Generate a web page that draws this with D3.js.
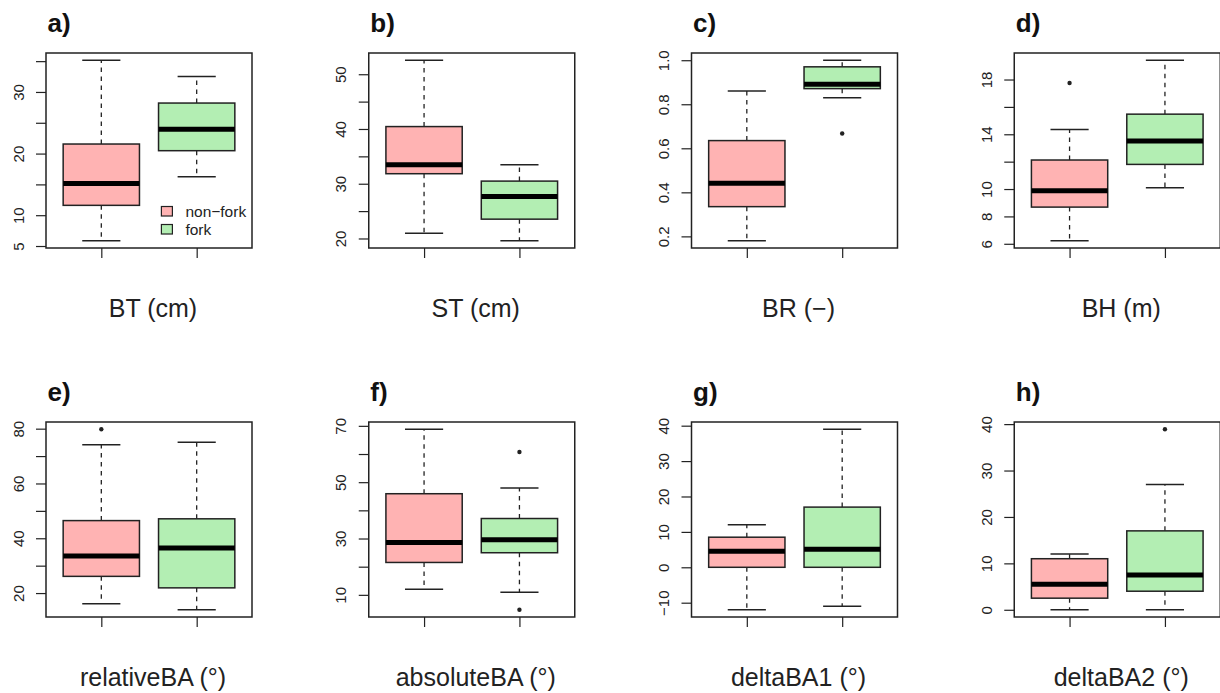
<!DOCTYPE html>
<html>
<head>
<meta charset="utf-8">
<script src="https://cdn.jsdelivr.net/npm/d3@7"></script>
<style>
  body { margin: 0; background: #fff; }
  svg { display: block; font-family: "Liberation Sans", Arial, sans-serif; }
</style>
</head>
<body>
<svg width="1220" height="693"></svg>
<script>
// panel letters and variable names
const panelTags = ['a)', 'b)', 'c)', 'd)', 'e)', 'f)', 'g)', 'h)'];
const varLabels = ['BT (cm)', 'ST (cm)', 'BR (\u2212)', 'BH (m)',
  'relativeBA (\u00b0)', 'absoluteBA (\u00b0)', 'deltaBA1 (\u00b0)', 'deltaBA2 (\u00b0)'];
const groups = ['non\u2212fork', 'fork'];
const groupColors = ['#ffb3b3', '#b3eeb3'];

// five-number summaries: [lower whisker, Q1, median, Q3, upper whisker]
const nonForkStats = [
  [5.85, 11.6, 15.15, 21.55, 35.15],
  [20.97, 31.83, 33.47, 40.44, 52.56],
  [0.18, 0.335, 0.441, 0.635, 0.86],
  [6.22, 8.68, 9.88, 12.12, 14.34],
  [16.1, 26.1, 33.5, 46.45, 74.1],
  [12.0, 21.5, 28.6, 45.9, 68.8],
  [-12.0, 0, 4.5, 8.5, 12],
  [0, 2.5, 5.5, 11, 12]
];
const forkStats = [
  [16.24, 20.47, 23.94, 28.2, 32.5],
  [19.58, 23.53, 27.68, 30.48, 33.47],
  [0.83, 0.871, 0.891, 0.97, 1.0],
  [10.1, 11.8, 13.51, 15.47, 19.41],
  [13.9, 21.9, 36.45, 47.1, 75.0],
  [10.9, 24.95, 29.6, 37.1, 47.9],
  [-11.0, 0, 5.1, 17, 39],
  [0, 4, 7.5, 17, 27]
];
const nonForkOutliers = [[], [], [], [17.75], [79.8], [], [], []];
const forkOutliers = [[], [], [0.667], [], [], [60.7, 4.7], [], [38.9]];

// y ticks, and which of them carry a label
const yTicks = [
  [5, 10, 15, 20, 25, 30, 35],
  [20, 25, 30, 35, 40, 45, 50],
  [0.2, 0.4, 0.6, 0.8, 1.0],
  [6, 8, 10, 12, 14, 16, 18],
  [20, 30, 40, 50, 60, 70, 80],
  [10, 20, 30, 40, 50, 60, 70],
  [-10, 0, 10, 20, 30, 40],
  [0, 10, 20, 30, 40]
];
const yTickLabels = [
  [5, 10, 20, 30],
  [20, 30, 40, 50],
  [0.2, 0.4, 0.6, 0.8, 1.0],
  [6, 8, 10, 14, 18],
  [20, 40, 60, 80],
  [10, 30, 50, 70],
  [-10, 0, 10, 20, 30, 40],
  [0, 10, 20, 30, 40]
];

const svg = d3.select('svg');
const plotW = 206, plotH = 195;
const colStep = 322.75, rowStep = 369;
const ink = '#222';

panelTags.forEach((tag, i) => {
  const left = 46 + (i % 4) * colStep;
  const top = 53 + Math.floor(i / 4) * rowStep;
  const g = svg.append('g').attr('transform', `translate(${left},${top})`);

  const stats = [nonForkStats[i], forkStats[i]];
  const outs = [nonForkOutliers[i], forkOutliers[i]];
  const all = stats.flat().concat(outs.flat());
  let [lo, hi] = d3.extent(all);
  const pad = (hi - lo) * 0.04;

  const y = d3.scaleLinear().domain([lo - pad, hi + pad]).range([plotH, 0]);
  // R boxplot x range 0.5..2.5 with 4% expansion
  const x = d3.scaleLinear().domain([0.42, 2.58]).range([0, plotW]);

  const labelled = yTickLabels[i];
  const fmt = i === 2 ? d3.format('.1f') : d3.format('d');
  const yAxis = g.append('g')
    .call(d3.axisLeft(y)
      .tickValues(yTicks[i])
      .tickSize(10)
      .tickFormat(v => labelled.some(l => Math.abs(l - v) < 1e-9) ? fmt(v).replace('-', '\u2212') : ''));
  yAxis.select('.domain').remove();
  yAxis.selectAll('.tick line').attr('stroke', ink).attr('stroke-width', 1.2);
  yAxis.selectAll('.tick text')
    .attr('transform', 'rotate(-90)')
    .attr('x', 0).attr('y', -22.5).attr('dy', 0)
    .attr('text-anchor', 'middle')
    .attr('fill', ink)
    .style('font-size', '15px')
    .style('font-family', '"Liberation Sans", Arial, sans-serif');

  const xAxis = g.append('g')
    .attr('transform', `translate(0,${plotH})`)
    .call(d3.axisBottom(x).tickValues([1, 2]).tickSize(10).tickFormat(''));
  xAxis.select('.domain').remove();
  xAxis.selectAll('.tick line').attr('stroke', ink).attr('stroke-width', 1.2);

  stats.forEach((s, k) => {
    const c = k + 1;
    const [wl, q1, med, q3, wh] = s;
    const bg = g.append('g');
    // whiskers
    bg.selectAll('line.whisk').data([[q3, wh], [q1, wl]]).enter().append('line')
      .attr('x1', x(c)).attr('x2', x(c))
      .attr('y1', d => y(d[0])).attr('y2', d => y(d[1]))
      .attr('stroke', ink).attr('stroke-width', 1.3)
      .attr('stroke-dasharray', '4.5,4.5');
    bg.selectAll('line.cap').data([wh, wl]).enter().append('line')
      .attr('x1', x(c - 0.2)).attr('x2', x(c + 0.2))
      .attr('y1', d => y(d)).attr('y2', d => y(d))
      .attr('stroke', ink).attr('stroke-width', 1.5);
    // box
    bg.append('rect')
      .attr('x', x(c - 0.4)).attr('width', x(c + 0.4) - x(c - 0.4))
      .attr('y', y(q3)).attr('height', y(q1) - y(q3))
      .attr('fill', groupColors[k])
      .attr('stroke', ink).attr('stroke-width', 1.5);
    bg.append('line')
      .attr('x1', x(c - 0.4)).attr('x2', x(c + 0.4))
      .attr('y1', y(med)).attr('y2', y(med))
      .attr('stroke', '#000').attr('stroke-width', 5);
    // outliers
    bg.selectAll('circle').data(outs[k]).enter().append('circle')
      .attr('cx', x(c)).attr('cy', d => y(d)).attr('r', 2.2)
      .attr('fill', ink);
  });

  // frame
  g.append('rect')
    .attr('width', plotW).attr('height', plotH)
    .attr('fill', 'none').attr('stroke', ink).attr('stroke-width', 1.5);

  g.append('text')
    .attr('x', 1.5).attr('y', -21)
    .attr('font-size', 26).attr('font-weight', 'bold').attr('fill', '#111')
    .text(tag);

  g.append('text')
    .attr('x', plotW / 2 + 4).attr('y', plotH + 69)
    .attr('text-anchor', 'middle')
    .attr('font-size', 25).attr('fill', ink)
    .text(varLabels[i]);

  if (i === 0) {
    const leg = g.append('g').attr('transform', `translate(${x(1.63)},${y(10.6)})`);
    groups.forEach((name, k) => {
      leg.append('rect')
        .attr('x', 0).attr('y', k * 18 - 5)
        .attr('width', 11).attr('height', 9.5)
        .attr('fill', groupColors[k]).attr('stroke', ink).attr('stroke-width', 1.2);
      leg.append('text')
        .attr('x', 24).attr('y', k * 18).attr('dy', '0.35em')
        .attr('font-size', 15.5).attr('fill', ink)
        .text(name);
    });
  }
});
</script>
</body>
</html>
